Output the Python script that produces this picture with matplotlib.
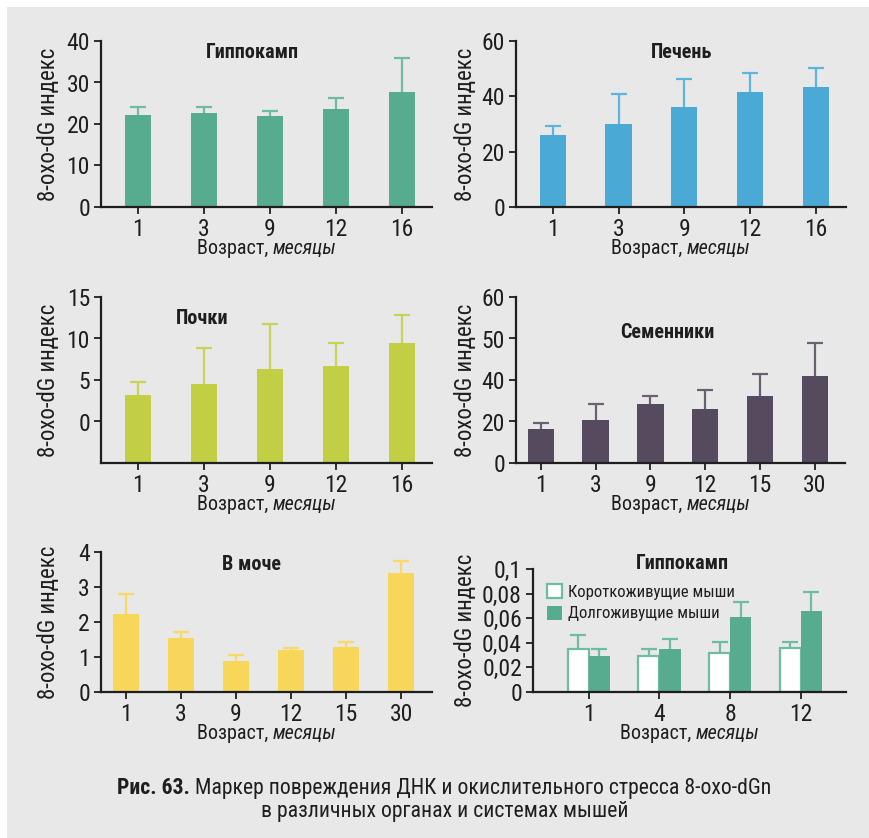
import os
import matplotlib
matplotlib.use("Agg")
import matplotlib.pyplot as plt
from matplotlib import font_manager as fm
from matplotlib.font_manager import FontProperties
from matplotlib.patches import Rectangle
import numpy as np

# ---------------- data ----------------
hip_ages = ["1", "3", "9", "12", "16"]
hip_mean = [22.1, 22.6, 21.9, 23.6, 27.7]
hip_err = [1.9, 1.4, 1.2, 2.6, 8.1]

liver_ages = ["1", "3", "9", "12", "16"]
liver_mean = [26.0, 30.0, 36.1, 41.6, 43.4]
liver_err = [3.2, 10.8, 10.2, 6.8, 7.0]

kidney_ages = ["1", "3", "9", "12", "16"]
kidney_mean = [3.2, 4.5, 6.3, 6.7, 9.5]
kidney_err = [1.6, 4.4, 5.5, 2.7, 3.3]

testes_ages = ["1", "3", "9", "12", "15", "30"]
testes_mean = [16.3, 20.6, 28.4, 26.0, 32.3, 41.9]
testes_err = [3.1, 7.6, 3.9, 9.2, 10.6, 16.1]
testes_ticks = [0, 20, 40, 60, 80]
testes_ticklabels = ["0", "20", "40", "50", "60"]

urine_ages = ["1", "3", "9", "12", "15", "30"]
urine_mean = [2.24, 1.55, 0.89, 1.21, 1.30, 3.41]
urine_err = [0.55, 0.17, 0.18, 0.05, 0.12, 0.32]

hip2_ages = ["1", "4", "8", "12"]
hip2_short = [0.0348, 0.0293, 0.0318, 0.0361]
hip2_short_err = [0.0119, 0.0055, 0.0090, 0.0047]
hip2_long = [0.0296, 0.0348, 0.0609, 0.0658]
hip2_long_err = [0.0052, 0.0084, 0.0125, 0.0152]
hip2_ticks = [0, 0.02, 0.04, 0.06, 0.08, 0.1]
hip2_ticklabels = ["0", "0,02", "0,04", "0,06", "0,08", "0,1"]

# ---------------- fonts ----------------
_FAM_PREF = ["roboto", "noto sans", "open sans", "dejavu sans", "liberation sans"]


def _weight(w):
    if isinstance(w, (int, float)):
        return int(w)
    return fm.weight_dict.get(str(w).lower(), 400)


def find_condensed(bold=False, italic=False):
    best, best_score = None, None
    for f in fm.fontManager.ttflist:
        base = os.path.basename(f.fname).lower()
        name = f.name.lower()
        if any(k in name or k in base for k in ("mono", "serif", "cjk", "math")):
            if "sans" not in name or "mono" in name or "cjk" in name:
                continue
        stretch = f.stretch if isinstance(f.stretch, str) else ""
        cond_rank = None
        if "semicondensed" in base or "semi-condensed" in stretch:
            cond_rank = 1
        elif "extracondensed" in base or "extra-condensed" in stretch:
            cond_rank = 2
        elif "condensed" in base or "condensed" in name or stretch == "condensed":
            cond_rank = 0
        elif "narrow" in base or "narrow" in name:
            cond_rank = 1
        if cond_rank is None:
            continue
        fam_rank = len(_FAM_PREF)
        for i, fam in enumerate(_FAM_PREF):
            if name.startswith(fam):
                fam_rank = i
                break
        target = 700 if bold else 400
        w = _weight(f.weight)
        if "bold" in base and "semibold" not in base and "extrabold" not in base:
            w = max(w, 700)
        is_it = f.style in ("italic", "oblique") or "italic" in base
        score = (abs(w - target) // 100, int(is_it != italic), cond_rank, fam_rank)
        if best_score is None or score < best_score:
            best, best_score = f, score
    if best is None:
        return None
    return FontProperties(fname=best.fname)


def fp(size, bold=False, italic=False):
    p = find_condensed(bold, italic)
    if p is None:
        p = FontProperties(family="Roboto", weight="bold" if bold else "normal",
                           style="italic" if italic else "normal")
        size = size * 0.86
    p.set_size(size)
    return p


TICK_FS = 17
TITLE_FS = 14.5
LABEL_FS = 14.5
YLAB_FS = 16.5
LEG_FS = 12
CAP_FS = 15.7

# ---------------- figure ----------------
W, H = 869, 838
DPI = 100
fig = plt.figure(figsize=(W / DPI, H / DPI), dpi=DPI, facecolor="white")
fig.patches.append(Rectangle((7 / W, 0), 1 - 7 / W, 1 - 7 / H, transform=fig.transFigure,
                             facecolor="#e8e8e8", edgecolor="none", zorder=-10))

INK = "#1e1e1e"


def add_ax(x0, y_top, x1, y_bot):
    ax = fig.add_axes([x0 / W, 1 - y_bot / H, (x1 - x0) / W, (y_bot - y_top) / H])
    ax.set_facecolor("none")
    for s in ("top", "right"):
        ax.spines[s].set_visible(False)
    for s in ("left", "bottom"):
        ax.spines[s].set_linewidth(1.6)
        ax.spines[s].set_color(INK)
    ax.tick_params(axis="both", direction="out", length=5, width=1.3, color=INK,
                   labelcolor=INK, pad=3)
    return ax


def style_ticks(ax):
    for lab in ax.get_xticklabels() + ax.get_yticklabels():
        lab.set_fontproperties(fp(TICK_FS))


def rich_text(x_px, y_px, parts, ha="center"):
    """Draw consecutive text pieces with different font properties on one baseline."""
    renderer = fig.canvas.get_renderer()
    widths = []
    for s, prop in parts:
        t = fig.text(0, 0, s, fontproperties=prop)
        bb = t.get_window_extent(renderer)
        widths.append(bb.width)
        t.remove()
    total = sum(widths)
    x = x_px - total / 2 if ha == "center" else x_px
    for (s, prop), w in zip(parts, widths):
        fig.text(x / W, 1 - y_px / H, s, fontproperties=prop, color=INK,
                 va="baseline", ha="left")
        x += w


def xlabel(ax, y_px):
    bb = ax.get_position()
    xc = (bb.x0 + bb.x1) / 2 * W
    rich_text(xc, y_px, [("Возраст, ", fp(LABEL_FS)), ("месяцы", fp(LABEL_FS, italic=True))])


def ylabel(ax, x_px):
    bb = ax.get_position()
    yc = (1 - (bb.y0 + bb.y1) / 2) * H
    fig.text(x_px / W, 1 - yc / H, "8-oxo-dG индекс", rotation=90, ha="center", va="center",
             fontproperties=fp(YLAB_FS), color=INK)


def title(ax, x_px, y_px, s):
    fig.text(x_px / W, 1 - y_px / H, s, ha="center", va="center",
             fontproperties=fp(TITLE_FS, bold=True), color=INK)


def upper_errorbar(ax, x, mean, err, ecolor):
    """Upper-only error whiskers; the lower cap would sit on the bar top, so hide it."""
    cont = ax.errorbar(x, mean, yerr=[np.zeros(len(err)), err], fmt="none", ecolor=ecolor,
                       elinewidth=1.6, capsize=6, capthick=1.6, zorder=1)
    caps = cont.lines[1]
    if len(caps) == 2:
        caps[0].set_visible(False)


def bar_panel(ax, labels, mean, err, color, ecolor, ylim, ticks, ticklabels,
              left_pad, right_pad, width):
    x = np.arange(len(labels))
    base = ylim[0]
    ax.bar(x, np.asarray(mean) - base, bottom=base, width=width, color=color, zorder=2)
    upper_errorbar(ax, x, mean, err, ecolor)
    ax.set_xlim(-left_pad, len(labels) - 1 + right_pad)
    ax.set_ylim(*ylim)
    ax.set_xticks(x)
    ax.set_xticklabels(labels)
    ax.set_yticks(ticks)
    ax.set_yticklabels(ticklabels)
    style_ticks(ax)


GREEN = "#57ab8f"
GREEN_E = "#6fbca1"
BLUE = "#4ba9d6"
BLUE_E = "#5db5df"
LIME = "#c2cf45"
LIME_E = "#c8d35a"
PLUM = "#564a5e"
PLUM_E = "#6b6072"
YELLOW = "#f8d65a"
YELLOW_E = "#f8d965"

# Гиппокамп
ax1 = add_ax(101, 41, 432, 207)
bar_panel(ax1, hip_ages, hip_mean, hip_err, GREEN, GREEN_E, (0, 40), [0, 10, 20, 30, 40],
          ["0", "10", "20", "30", "40"], 0.56, 0.46, 0.39)
title(ax1, 252, 53, "Гиппокамп")
xlabel(ax1, 254)
ylabel(ax1, 49)

# Печень
ax2 = add_ax(516, 41, 846, 207)
bar_panel(ax2, liver_ages, liver_mean, liver_err, BLUE, BLUE_E, (0, 60), [0, 20, 40, 60],
          ["0", "20", "40", "60"], 0.56, 0.46, 0.40)
title(ax2, 682, 52, "Печень")
xlabel(ax2, 254)
ylabel(ax2, 465)

# Почки
ax3 = add_ax(101, 297, 432, 463)
bar_panel(ax3, kidney_ages, kidney_mean, kidney_err, LIME, LIME_E, (-5, 15), [0, 5, 10, 15],
          ["0", "5", "10", "15"], 0.56, 0.46, 0.39)
title(ax3, 202, 318, "Почки")
xlabel(ax3, 510)
ylabel(ax3, 49)

# Семенники
ax4 = add_ax(516, 297, 845, 463)
bar_panel(ax4, testes_ages, testes_mean, testes_err, PLUM, PLUM_E, (0, 80), testes_ticks,
          testes_ticklabels, 0.45, 0.55, 0.48)
title(ax4, 667, 333, "Семенники")
xlabel(ax4, 510)
ylabel(ax4, 465)

# В моче
ax5 = add_ax(101, 552, 432, 692)
bar_panel(ax5, urine_ages, urine_mean, urine_err, YELLOW, YELLOW_E, (0, 4), [0, 1, 2, 3, 4],
          ["0", "1", "2", "3", "4"], 0.45, 0.56, 0.47)
title(ax5, 252, 565, "В моче")
xlabel(ax5, 739)
ylabel(ax5, 49)

# Гиппокамп: короткоживущие / долгоживущие
ax6 = add_ax(533, 569, 846, 692)
x = np.arange(len(hip2_ages))
bw = 0.30
ax6.bar(x - bw / 2, hip2_short, width=bw, facecolor="white", edgecolor=GREEN_E,
        linewidth=1.6, zorder=2, label="Короткоживущие мыши")
ax6.bar(x + bw / 2, hip2_long, width=bw, facecolor=GREEN, edgecolor="none", zorder=2,
        label="Долгоживущие мыши")
upper_errorbar(ax6, x - bw / 2, hip2_short, hip2_short_err, GREEN_E)
upper_errorbar(ax6, x + bw / 2, hip2_long, hip2_long_err, GREEN_E)
ax6.set_xlim(-0.79, len(x) - 1 + 0.64)
ax6.set_ylim(0, 0.1)
ax6.set_xticks(x)
ax6.set_xticklabels(hip2_ages)
ax6.set_yticks(hip2_ticks)
ax6.set_yticklabels(hip2_ticklabels)
style_ticks(ax6)
leg = ax6.legend(loc="upper left", bbox_to_anchor=(0.025, 0.93), frameon=False,
                 prop=fp(LEG_FS), handlelength=0.9, handleheight=0.9, handletextpad=0.35,
                 labelspacing=0.35, borderaxespad=0)
for t in leg.get_texts():
    t.set_color(INK)
title(ax6, 682, 563, "Гиппокамп")
xlabel(ax6, 739)
ylabel(ax6, 465)

# caption
rich_text(444, 794, [("Рис. 63. ", fp(CAP_FS, bold=True)),
                     ("Маркер повреждения ДНК и окислительного стресса 8-oxo-dGn", fp(CAP_FS))])
rich_text(445, 817, [("в различных органах и системах мышей", fp(CAP_FS))])

fig.savefig("out.png", dpi=DPI, facecolor="white")
